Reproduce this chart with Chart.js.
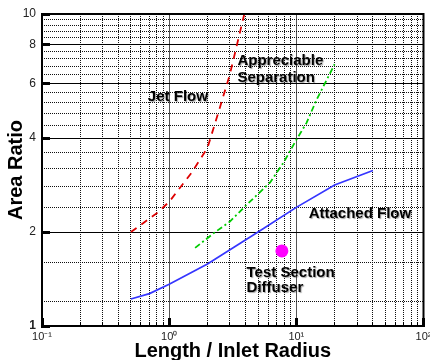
<!DOCTYPE html>
<html>
<head>
<meta charset="utf-8">
<script src="https://cdn.jsdelivr.net/npm/chart.js@4.4.1/dist/chart.umd.min.js"></script>
<style>
  html, body { margin: 0; padding: 0; background: #fff; }
</style>
</head>
<body>
<canvas id="myChart" width="430" height="360"></canvas>
<script>
// values (x = length / inlet radius, y = area ratio)
const jetX = [0.5, 0.8, 1.0, 1.5, 2.0, 2.5, 3.0, 3.9];
const jetY = [2.0, 2.3, 2.5, 3.1, 3.72, 5.0, 6.4, 10.0];
const sepX = [1.6, 2.3, 3.0, 4.0, 5.0, 6.2, 8.0, 10, 12, 14.4, 20];
const sepY = [1.78, 2.0, 2.16, 2.43, 2.65, 2.88, 3.36, 3.95, 4.47, 5.3, 6.9];
const attX = [0.5, 0.7, 1.0, 2.0, 5.0, 10, 20, 40];
const attY = [1.22, 1.27, 1.36, 1.58, 2.0, 2.4, 2.83, 3.15];
const diffX = [7.7];
const diffY = [1.74];

// tick values
const xMajor = [0.1, 1, 10, 100];
const xMajorLabels = ['10⁻¹', '10⁰', '10¹', '10²'];
const xMinor = [0.2, 0.3, 0.4, 0.5, 0.6, 0.7, 0.8, 0.9, 2, 3, 4, 5, 6, 7, 8, 9, 20, 30, 40, 50, 60, 70, 80, 90];
const yMajor = [1, 2, 4, 6, 8, 10];
const yMinor = [1.2, 1.6, 2.4, 2.8, 3.2, 3.6, 4.4, 4.8, 5.2, 5.6, 6.4, 6.8, 7.2, 7.6, 8.4, 8.8, 9.2, 9.6];

// text labels in the plot
const noteText = ['Jet Flow', 'Appreciable', 'Separation', 'Attached Flow', 'Test Section', 'Diffuser'];
const noteX = [0.68, 3.44, 3.44, 12.5, 4.06, 4.06];
const noteY = [5.42, 7.07, 6.26, 2.29, 1.484, 1.328];

const FONT = '"Liberation Sans", Arial, sans-serif';
const pts = (xs, ys) => xs.map((x, i) => ({ x: x, y: ys[i] }));

const frame = {
  id: 'frame',
  afterDatasetsDraw(chart) {
    const { ctx, chartArea: a } = chart;
    ctx.save();
    ctx.strokeStyle = '#000';
    ctx.lineWidth = 2;
    ctx.strokeRect(a.left, a.top, a.right - a.left, a.bottom - a.top);
    ctx.restore();
  }
};

const notes = {
  id: 'notes',
  afterDatasetsDraw(chart) {
    const { ctx } = chart;
    const sx = chart.scales.x, sy = chart.scales.y;
    ctx.save();
    ctx.font = 'bold 15px ' + FONT;
    ctx.fillStyle = '#000';
    ctx.textAlign = 'left';
    ctx.textBaseline = 'middle';
    ctx.shadowColor = 'rgba(0,0,0,0.35)';
    ctx.shadowOffsetX = 1;
    ctx.shadowOffsetY = 1;
    ctx.shadowBlur = 1;
    noteText.forEach((t, i) => {
      ctx.fillText(t, sx.getPixelForValue(noteX[i]), sy.getPixelForValue(noteY[i]));
    });
    ctx.restore();
  }
};

const minorGrid = { color: '#111', lineWidth: 1 };

new Chart(document.getElementById('myChart'), {
  type: 'scatter',
  data: {
    datasets: [
      { data: pts(jetX, jetY), showLine: true, borderColor: '#dd0000', borderWidth: 1.8, borderDash: [7, 6], pointRadius: 0 },
      { data: pts(sepX, sepY), showLine: true, borderColor: '#00cc00', borderWidth: 1.8, borderDash: [6, 3, 2, 3], pointRadius: 0 },
      { data: pts(attX, attY), showLine: true, borderColor: '#3535ff', borderWidth: 1.7, pointRadius: 0 },
      { data: pts(diffX, diffY), showLine: false, pointRadius: 6.5, backgroundColor: '#ff00ff', borderColor: '#ff00ff', borderWidth: 0 }
    ]
  },
  options: {
    responsive: false,
    animation: false,
    layout: { padding: { left: 0, top: 14, right: 6, bottom: 0 } },
    plugins: { legend: { display: false }, tooltip: { enabled: false } },
    scales: {
      x: {
        type: 'logarithmic', position: 'bottom', weight: 1, min: 0.1, max: 100,
        afterBuildTicks: s => { s.ticks = xMajor.map(v => ({ value: v })); },
        afterFit: s => { s.height = 34; s.paddingLeft = 0; s.paddingRight = 0; },
        ticks: {
          autoSkip: false, maxRotation: 0, padding: 12, color: '#222',
          font: { family: FONT, size: 11 },
          callback: v => xMajorLabels[xMajor.indexOf(v)]
        },
        grid: { color: '#555', lineWidth: 1, tickLength: -8, tickWidth: 3, tickColor: '#000' },
        border: { display: true, color: '#000', width: 2 },
        title: {
          display: true, text: 'Length / Inlet Radius', color: '#000',
          font: { family: FONT, size: 20, weight: 'bold', lineHeight: 0.9 },
          padding: { top: 0, bottom: 0 }
        }
      },
      x2: {
        type: 'logarithmic', position: 'bottom', weight: 0, min: 0.1, max: 100,
        afterBuildTicks: s => { s.ticks = xMinor.map(v => ({ value: v })); },
        afterFit: s => { s.height = 0; s.paddingLeft = 0; s.paddingRight = 0; },
        ticks: { display: false },
        grid: { ...minorGrid, tickLength: -4, tickWidth: 1, tickColor: '#000' },
        border: { display: false, dash: [1, 1] }
      },
      y: {
        type: 'logarithmic', position: 'left', weight: 1, min: 1, max: 10,
        afterBuildTicks: s => { s.ticks = yMajor.map(v => ({ value: v })); },
        afterFit: s => { s.width = 42; s.paddingTop = 0; s.paddingBottom = 0; },
        ticks: {
          autoSkip: false, padding: 14, color: '#222',
          font: c => ({ family: FONT, size: 12, weight: c.tick && c.tick.value === 1 ? 'bold' : 'normal' }),
          callback: v => String(v)
        },
        grid: { color: '#000', lineWidth: 1, tickLength: -8, tickWidth: 3, tickColor: '#000' },
        border: { display: true, color: '#000', width: 2 },
        title: {
          display: true, text: 'Area Ratio', color: '#000',
          font: { family: FONT, size: 20, weight: 'bold' },
          padding: { top: 4, bottom: 4 }
        }
      },
      y2: {
        type: 'logarithmic', position: 'left', weight: 0, min: 1, max: 10,
        afterBuildTicks: s => { s.ticks = yMinor.map(v => ({ value: v })); },
        afterFit: s => { s.width = 0; s.paddingTop = 0; s.paddingBottom = 0; },
        ticks: { display: false },
        grid: { ...minorGrid, drawTicks: false },
        border: { display: false, dash: [1, 1] }
      }
    }
  },
  plugins: [frame, notes]
});
</script>
</body>
</html>
